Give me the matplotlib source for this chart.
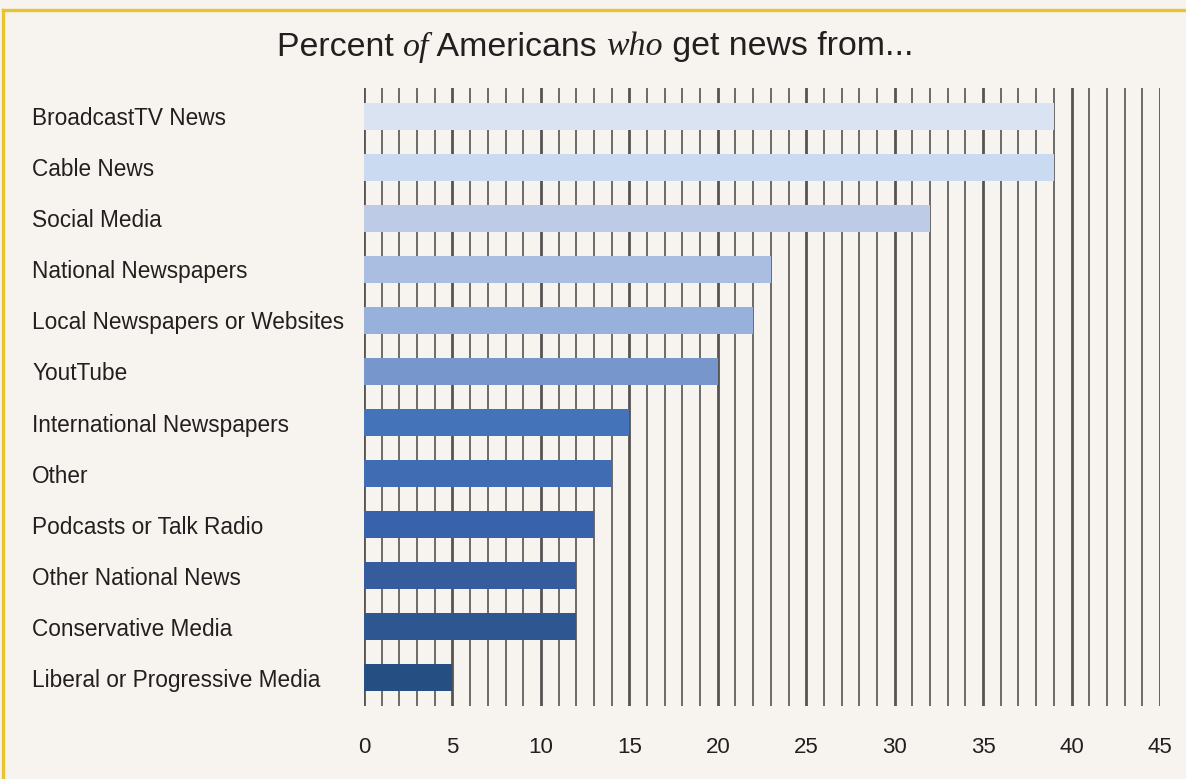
import matplotlib
matplotlib.use("Agg")
import matplotlib.pyplot as plt
from matplotlib.lines import Line2D

# news sources, top to bottom
sources = [
    "BroadcastTV News",
    "Cable News",
    "Social Media",
    "National Newspapers",
    "Local Newspapers or Websites",
    "YoutTube",
    "International Newspapers",
    "Other",
    "Podcasts or Talk Radio",
    "Other National News",
    "Conservative Media",
    "Liberal or Progressive Media",
]
percent = [39, 39, 32, 23, 22, 20, 15, 14, 13, 12, 12, 5]
bar_colors = [
    "#DAE3F2", "#CADAF0", "#BDCBE7", "#AABEE2", "#98B0DC", "#7796CC",
    "#4573B9", "#3F6CB3", "#3862AB", "#365C9E", "#2E5791", "#254F83",
]
x_ticks = list(range(0, 46, 5))

BG = "#F7F4EF"
INK = "#231F20"
GRID = "#575352"
GOLD = "#E8C42E"
W, H = 1186, 779

plt.rcParams["font.family"] = ["Liberation Sans", "DejaVu Sans"]

fig = plt.figure(figsize=(W / 100, H / 100), dpi=100, facecolor=BG)
ax = fig.add_axes([364 / W, 1 - 706 / H, (1160 - 364) / W, (706 - 88) / H])
ax.set_facecolor(BG)

y = list(range(len(sources)))
ax.barh(y, percent, height=0.53, color=bar_colors, zorder=3)

ax.set_xlim(0, 45)
ax.set_ylim(len(sources) - 0.45, -0.55)
ax.set_xticks(x_ticks)
ax.set_xticks(range(0, 46), minor=True)
ax.set_yticks(y)
ax.set_yticklabels(sources, ha="left", fontsize=16.3, color=INK)
ax.tick_params(axis="y", length=0, pad=239)
ax.tick_params(axis="x", which="both", length=0, pad=22, labelsize=16, labelcolor=INK)
ax.grid(axis="x", which="major", color=GRID, lw=2.0, zorder=0)
ax.grid(axis="x", which="minor", color=GRID, lw=1.2, zorder=0)
ax.set_axisbelow(True)
for s in ax.spines.values():
    s.set_visible(False)

# gold frame on top and left
fig.add_artist(Line2D([3 / W, 1], [1 - 9.5 / H, 1 - 9.5 / H], color=GOLD, lw=2.4,
                      transform=fig.transFigure))
fig.add_artist(Line2D([3 / W, 3 / W], [0, 1 - 9.5 / H], color=GOLD, lw=2.4,
                      transform=fig.transFigure))

# title with italic serif words
pieces = [
    ("Percent ", {"family": ["Liberation Sans"]}),
    ("of", {"family": ["Liberation Serif"], "style": "italic"}),
    (" Americans ", {"family": ["Liberation Sans"]}),
    ("who", {"family": ["Liberation Serif"], "style": "italic"}),
    (" get news from...", {"family": ["Liberation Sans"]}),
]
renderer = fig.canvas.get_renderer()
title_y = 1 - 47 / H
texts = []
for s, kw in pieces:
    t = fig.text(0, title_y, s, fontsize=24.4, color=INK, va="center", ha="left", **kw)
    texts.append(t)
widths = []
for t in texts:
    bb = t.get_window_extent(renderer)
    widths.append(bb.width)
total = sum(widths)
x0 = (595 - total / 2)
for t, w in zip(texts, widths):
    t.set_x(x0 / W)
    x0 += w

fig.savefig("out.png", dpi=100, facecolor=BG)
